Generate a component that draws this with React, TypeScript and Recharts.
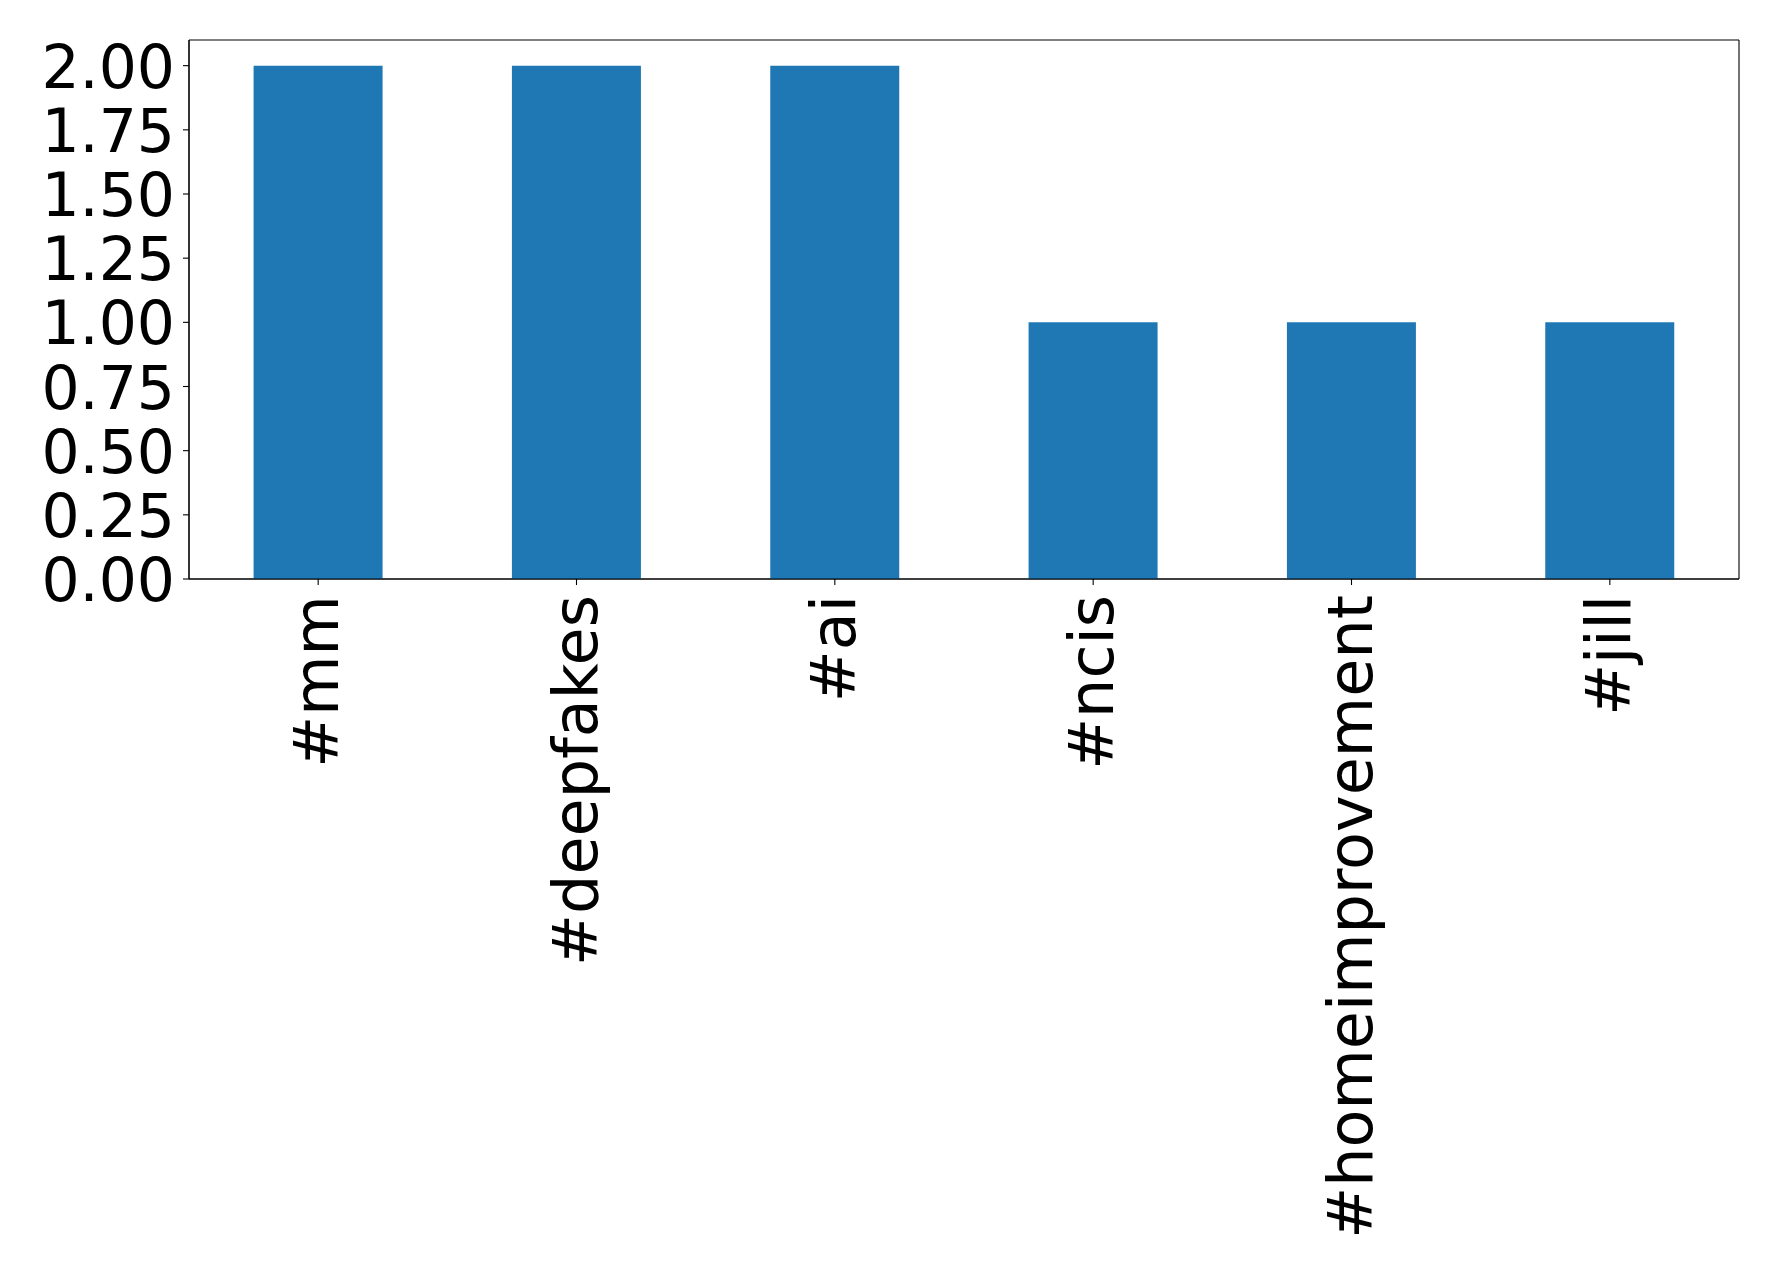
import { Bar, BarChart, CartesianGrid, XAxis, YAxis } from 'recharts';

const hashtags = ['#mm', '#deepfakes', '#ai', '#ncis', '#homeimprovement', '#jill'];
const counts = [2, 2, 2, 1, 1, 1];
const yTicks = [0, 0.25, 0.5, 0.75, 1, 1.25, 1.5, 1.75, 2];

const data = hashtags.map((tag, i) => ({ tag, count: counts[i] }));

const FONT = '"DejaVu Sans", sans-serif';

const XTick = (props: any) => {
  const { x, y, payload } = props;
  return (
    <g transform={`translate(${x},${y})`}>
      <text
        transform="rotate(-90)"
        x={0}
        y={20}
        textAnchor="end"
        fill="#000"
        fontFamily={FONT}
        fontSize={62}
      >
        {payload.value}
      </text>
    </g>
  );
};

const YTick = (props: any) => {
  const { x, y, payload } = props;
  return (
    <text x={x} y={y + 22} textAnchor="end" fill="#000" fontFamily={FONT} fontSize={60}>
      {Number(payload.value).toFixed(2)}
    </text>
  );
};

// frame around the plot area, like matplotlib spines
const frameRows = ({ offset }: any) => [offset.top, offset.top + offset.height];
const frameCols = ({ offset }: any) => [offset.left, offset.left + offset.width];

export default function App() {
  return (
    <div style={{ position: 'absolute', left: 0, top: 0, background: '#fff' }}>
      <BarChart
        width={1778}
        height={1277}
        data={data}
        margin={{ top: 40, right: 39, left: 0, bottom: 0 }}
        barCategoryGap="25%"
      >
        <Bar dataKey="count" fill="#1f77b4" isAnimationActive={false} />
        <CartesianGrid
          stroke="#000"
          strokeWidth={1.1}
          fill="none"
          horizontalCoordinatesGenerator={frameRows}
          verticalCoordinatesGenerator={frameCols}
        />
        <XAxis
          dataKey="tag"
          height={698}
          interval={0}
          stroke="#000"
          tick={<XTick />}
          tickSize={6}
          tickMargin={10}
          axisLine={{ stroke: '#000', strokeWidth: 1.1 }}
          tickLine={{ stroke: '#000', strokeWidth: 1.1 }}
        />
        <YAxis
          width={189}
          domain={[0, 2.1]}
          ticks={yTicks}
          interval={0}
          stroke="#000"
          tick={<YTick />}
          tickSize={6}
          tickMargin={8}
          axisLine={{ stroke: '#000', strokeWidth: 1.1 }}
          tickLine={{ stroke: '#000', strokeWidth: 1.1 }}
        />
      </BarChart>
    </div>
  );
}
